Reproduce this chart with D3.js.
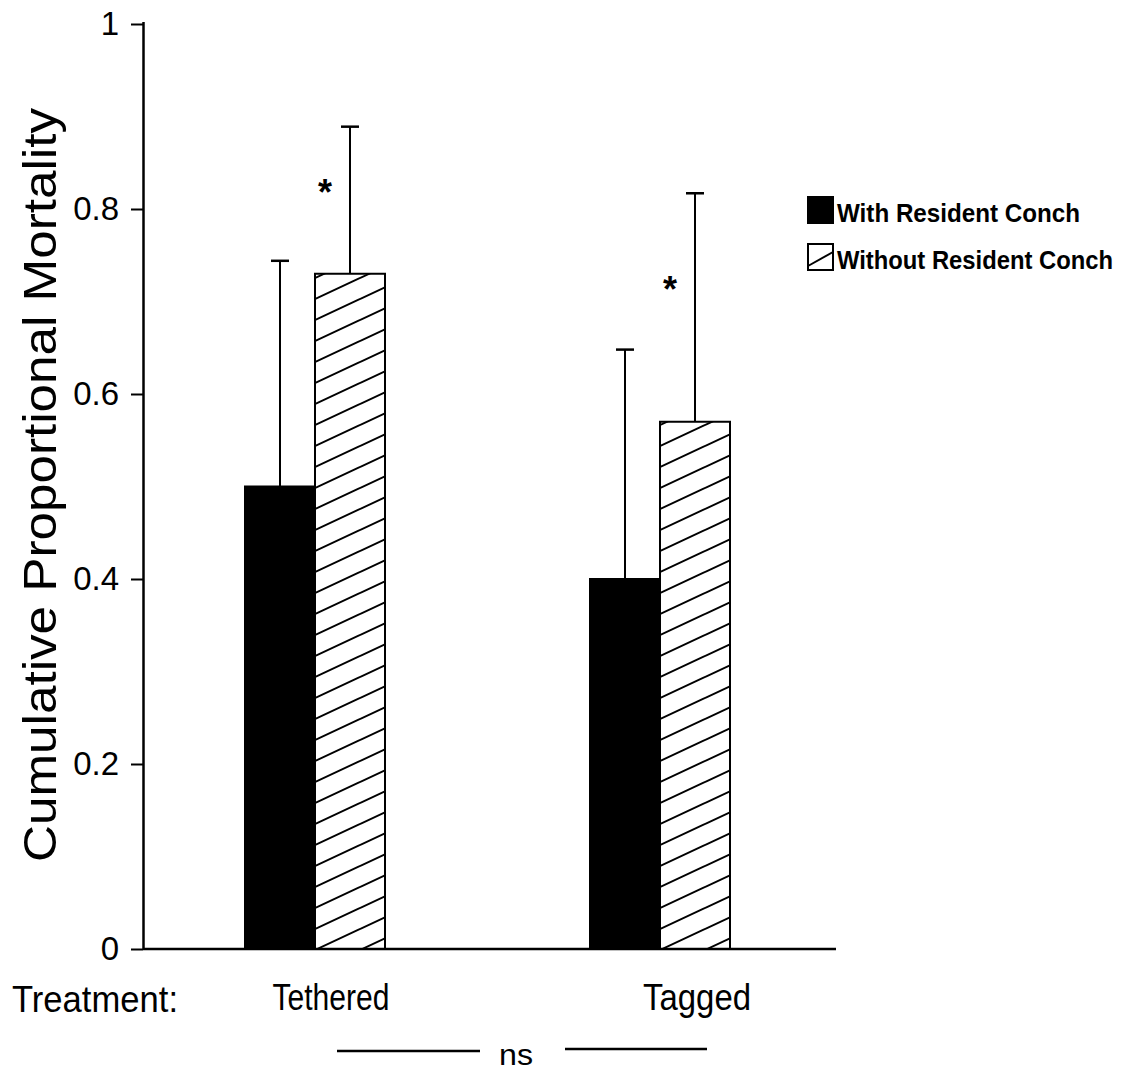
<!DOCTYPE html>
<html>
<head>
<meta charset="utf-8">
<script src="https://cdn.jsdelivr.net/npm/d3@7"></script>
<style>
  html, body { margin: 0; padding: 0; background: #fff; }
  svg { display: block; }
</style>
</head>
<body>
<svg id="chart" width="1138" height="1076"></svg>
<script>
// Treatment groups and the two conch conditions
const categories = ["Tethered", "Tagged"];
const seriesNames = ["With Resident Conch", "Without Resident Conch"];

// Cumulative proportional mortality (bar heights)
const withResident = [0.50, 0.40];
const withoutResident = [0.73, 0.57];

// Upper error (added on top of each bar)
const withResidentErr = [0.244, 0.248];
const withoutResidentErr = [0.159, 0.247];

// Significance marks shown beside the "without" bars
const significance = ["*", "*"];

// Y axis ticks
const yTicks = [0, 0.2, 0.4, 0.6, 0.8, 1];
const yTickLabels = ["0", "0.2", "0.4", "0.6", "0.8", "1"];

const axisLabel = "Cumulative Proportional Mortality";
const treatmentLabel = "Treatment:";
const groupComparison = "ns";

// ---- layout ----
const svg = d3.select("#chart");
const plotLeft = 143, plotRight = 836, plotTop = 24, plotBottom = 949;
const barW = 70;
const ink = "#000";
const sans = "'Liberation Sans', Arial, Helvetica, sans-serif";
const narrow = "'Liberation Sans Narrow', 'Liberation Sans', Arial, sans-serif";

const y = d3.scaleLinear().domain([0, 1]).range([plotBottom, plotTop]);
const x0 = d3.scalePoint().domain(categories).range([315, 660]);
const x1 = d3.scaleBand().domain(seriesNames).range([-barW, barW]);

const rows = categories.map((c, i) => ({
  cat: c,
  sig: significance[i],
  bars: [
    { s: seriesNames[0], v: withResident[i], e: withResidentErr[i] },
    { s: seriesNames[1], v: withoutResident[i], e: withoutResidentErr[i] }
  ]
}));

// diagonal hatch
const defs = svg.append("defs");
const pat = defs.append("pattern")
  .attr("id", "hatch")
  .attr("patternUnits", "userSpaceOnUse")
  .attr("width", 45).attr("height", 21)
  .attr("x", 0).attr("y", 5);
pat.append("rect").attr("width", 45).attr("height", 21).attr("fill", "#fff");
pat.append("path")
  .attr("d", "M-5,23.33 L50,-2.33 M-50,23.33 L5,-2.33 M40,23.33 L95,-2.33")
  .attr("stroke", ink).attr("stroke-width", 2).attr("fill", "none");

const fillFor = s => s === seriesNames[0] ? ink : "url(#hatch)";

// bars
const g = svg.append("g");
const groups = g.selectAll("g.grp").data(rows).join("g")
  .attr("class", "grp")
  .attr("transform", d => `translate(${x0(d.cat)},0)`);

groups.selectAll("rect.bar").data(d => d.bars).join("rect")
  .attr("class", "bar")
  .attr("x", d => x1(d.s))
  .attr("width", x1.bandwidth())
  .attr("y", d => y(d.v))
  .attr("height", d => y(0) - y(d.v))
  .attr("fill", d => fillFor(d.s))
  .attr("stroke", ink)
  .attr("stroke-width", 2);

// error bars (upper only)
const errs = groups.selectAll("g.err").data(d => d.bars).join("g").attr("class", "err");
errs.append("line")
  .attr("x1", d => x1(d.s) + x1.bandwidth() / 2)
  .attr("x2", d => x1(d.s) + x1.bandwidth() / 2)
  .attr("y1", d => y(d.v))
  .attr("y2", d => y(d.v + d.e))
  .attr("stroke", ink).attr("stroke-width", 2);
errs.append("line")
  .attr("x1", d => x1(d.s) + x1.bandwidth() / 2 - 9)
  .attr("x2", d => x1(d.s) + x1.bandwidth() / 2 + 9)
  .attr("y1", d => y(d.v + d.e))
  .attr("y2", d => y(d.v + d.e))
  .attr("stroke", ink).attr("stroke-width", 2.5);

// significance asterisks, partway down the error bar of the "without" bar
groups.append("text")
  .attr("x", d => x1(seriesNames[1]) + 10)
  .attr("y", d => {
    const b = d.bars[1];
    const yt = y(b.v + b.e), yb = y(b.v);
    return yt + (yb - yt) * 0.38 + 22;
  })
  .attr("text-anchor", "middle")
  .attr("font-family", sans)
  .attr("font-weight", "bold")
  .attr("font-size", 36)
  .attr("fill", ink)
  .text(d => d.sig);

// axes
const yAxis = d3.axisLeft(y)
  .tickValues(yTicks)
  .tickFormat((d, i) => yTickLabels[i])
  .tickSize(12).tickSizeOuter(0).tickPadding(12);
const ya = svg.append("g").attr("transform", `translate(${plotLeft},0)`).call(yAxis);
ya.select(".domain").attr("stroke", ink).attr("stroke-width", 2.5)
  .attr("d", `M0.5,${plotTop - 2}V${plotBottom}`);
ya.selectAll(".tick line").attr("stroke", ink).attr("stroke-width", 2);
ya.selectAll(".tick text")
  .attr("font-family", sans).attr("font-size", 33).attr("fill", ink);

svg.append("line")
  .attr("x1", plotLeft).attr("x2", plotRight)
  .attr("y1", plotBottom).attr("y2", plotBottom)
  .attr("stroke", ink).attr("stroke-width", 2.5);

// y axis title
svg.append("text")
  .attr("transform", `translate(56,${(108 + 862) / 2}) rotate(-90)`)
  .attr("text-anchor", "middle")
  .attr("font-family", sans)
  .attr("font-size", 46)
  .attr("textLength", 754)
  .attr("lengthAdjust", "spacingAndGlyphs")
  .attr("fill", ink)
  .text(axisLabel);

// treatment labels
const labelNudge = { Tethered: 16, Tagged: 37 };
const labelWidth = { Tethered: 117, Tagged: 108 };
svg.append("text")
  .attr("x", 12).attr("y", 1012)
  .attr("font-family", narrow).attr("font-size", 37).attr("fill", ink)
  .attr("textLength", 166).attr("lengthAdjust", "spacingAndGlyphs")
  .text(treatmentLabel);
svg.selectAll("text.cat").data(categories).join("text")
  .attr("class", "cat")
  .attr("x", d => x0(d) + labelNudge[d])
  .attr("y", 1010)
  .attr("text-anchor", "middle")
  .attr("font-family", narrow).attr("font-size", 36).attr("fill", ink)
  .attr("textLength", d => labelWidth[d]).attr("lengthAdjust", "spacingAndGlyphs")
  .text(d => d);

// "ns" comparison between treatments
const mid = (x0(categories[0]) + labelNudge[categories[0]] + x0(categories[1]) + labelNudge[categories[1]]) / 2;
svg.append("line").attr("x1", mid - 177).attr("x2", mid - 34)
  .attr("y1", 1051).attr("y2", 1051).attr("stroke", ink).attr("stroke-width", 2.5);
svg.append("line").attr("x1", mid + 51).attr("x2", mid + 193)
  .attr("y1", 1049).attr("y2", 1049).attr("stroke", ink).attr("stroke-width", 2.5);
svg.append("text")
  .attr("x", mid + 2).attr("y", 1065)
  .attr("text-anchor", "middle")
  .attr("font-family", narrow).attr("font-size", 30).attr("fill", ink)
  .attr("textLength", 34).attr("lengthAdjust", "spacingAndGlyphs")
  .text(groupComparison);

// legend
const lg = svg.append("g").attr("transform", "translate(808,197)");
const items = lg.selectAll("g").data(seriesNames).join("g")
  .attr("transform", (d, i) => `translate(0,${i * 47})`);
items.append("rect")
  .attr("width", 25).attr("height", 26)
  .attr("fill", d => d === seriesNames[0] ? ink : "#fff")
  .attr("stroke", ink).attr("stroke-width", 2);
items.filter(d => d === seriesNames[1]).append("line")
  .attr("x1", 0).attr("y1", 22).attr("x2", 25).attr("y2", 8)
  .attr("stroke", ink).attr("stroke-width", 2);
items.append("text")
  .attr("x", 29).attr("y", 25)
  .attr("font-family", narrow).attr("font-weight", "bold")
  .attr("font-size", 26).attr("fill", ink)
  .attr("textLength", (d, i) => i === 0 ? 243 : 276)
  .attr("lengthAdjust", "spacingAndGlyphs")
  .text(d => d);
</script>
</body>
</html>
